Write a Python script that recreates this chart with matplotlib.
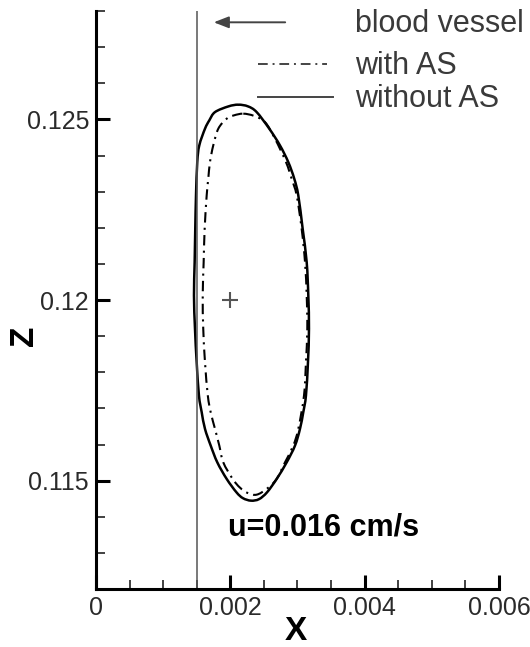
import matplotlib
matplotlib.use("Agg")
import matplotlib.pyplot as plt
from matplotlib.path import Path
from matplotlib.patches import PathPatch
from matplotlib.ticker import MultipleLocator, FixedFormatter, FixedLocator
import numpy as np

plt.rcParams['font.family'] = ['Liberation Sans', 'DejaVu Sans']

# Contour of the region without AS (x, z in 1e-3 units), clockwise from the top
x_without = [2.119, 2.263, 2.392, 2.580, 2.739, 2.863, 2.952, 3.012, 3.077, 3.137,
             3.161, 3.171, 3.156, 3.126, 3.086, 3.037, 2.963, 2.839, 2.690, 2.546,
             2.427, 2.308, 2.188, 2.092, 1.946, 1.806, 1.708, 1.623, 1.574, 1.533,
             1.499, 1.474, 1.459, 1.469, 1.478, 1.489, 1.508, 1.538, 1.623, 1.687,
             1.772, 1.973]
z_without = [125.407, 125.360, 125.202, 124.742, 124.280, 123.817, 123.357, 122.895, 121.972, 121.047,
             120.125, 119.202, 118.277, 117.355, 116.892, 116.432, 115.970, 115.507, 115.047, 114.676,
             114.488, 114.446, 114.515, 114.676, 115.047, 115.507, 115.970, 116.432, 116.892, 117.355,
             118.277, 119.202, 120.125, 121.047, 121.972, 122.895, 123.817, 124.280, 124.742, 124.972,
             125.202, 125.360]

# Contour of the region with AS (x, z in 1e-3 units), clockwise from the top
x_with = [2.193, 2.352, 2.516, 2.665, 2.829, 2.913, 2.988, 3.062, 3.112, 3.137,
          3.146, 3.126, 3.097, 3.012, 2.937, 2.814, 2.690, 2.541, 2.392, 2.263,
          2.144, 2.035, 1.895, 1.836, 1.772, 1.708, 1.665, 1.623, 1.597, 1.589,
          1.603, 1.618, 1.648, 1.672, 1.697, 1.746, 1.821, 1.946, 2.054]
z_with = [125.158, 125.097, 124.925, 124.465, 123.817, 123.357, 122.895, 121.972, 121.047, 120.125,
          119.202, 118.277, 117.355, 116.432, 115.970, 115.507, 115.047, 114.770, 114.612, 114.654,
          114.806, 115.047, 115.507, 115.970, 116.432, 116.892, 117.355, 118.277, 119.202, 120.125,
          121.047, 121.972, 122.895, 123.357, 123.817, 124.280, 124.742, 125.019, 125.111]

vessel_x = 0.0015
center = (0.002, 0.12)
x_ticks = [0, 0.002, 0.004, 0.006]
x_tick_labels = ['0', '0.002', '0.004', '0.006']
z_ticks = [0.115, 0.12, 0.125]
z_tick_labels = ['0.115', '0.12', '0.125']
speed_label = 'u=0.016 cm/s'


def smooth_closed_path(xs, zs, ax):
    """Closed Bezier path through the contour points (Catmull-Rom tangents),
    built in display space so the curvature looks even on screen."""
    pts = np.column_stack([np.array(xs) * 1e-3, np.array(zs) * 1e-3])
    disp = ax.transData.transform(pts)
    n = len(disp)
    verts, codes = [disp[0]], [Path.MOVETO]
    for i in range(n):
        p0, p1 = disp[i - 1], disp[i]
        p2, p3 = disp[(i + 1) % n], disp[(i + 2) % n]
        c1 = p1 + (p2 - p0) / 6.0
        c2 = p2 - (p3 - p1) / 6.0
        verts += [c1, c2, p2]
        codes += [Path.CURVE4] * 3
    data = ax.transData.inverted().transform(np.array(verts))
    return Path(data, codes)


fig = plt.figure(figsize=(5.30, 6.47), dpi=100)
ax = fig.add_axes([0.1811, 0.0896, 0.7604, 0.8934])
ax.set_xlim(0, 0.006)
ax.set_ylim(0.112, 0.128)

ax.add_patch(PathPatch(smooth_closed_path(x_without, z_without, ax),
                       facecolor='none', edgecolor='black', lw=1.8))
ax.add_patch(PathPatch(smooth_closed_path(x_with, z_with, ax),
                       facecolor='none', edgecolor='black', lw=1.5,
                       linestyle=(0, (5, 2.5, 1, 2.5))))

ax.axvline(vessel_x, color='#555555', lw=1.1)
ax.plot(*center, marker='+', color='#555555', ms=12, mew=1.5)

# legend-style annotations
ax.annotate('', xy=(0.001712, 0.127687), xytext=(0.002858, 0.127687),
            arrowprops=dict(arrowstyle='-|>,head_length=0.9,head_width=0.35',
                            color='#444444', lw=1.4), annotation_clip=False)
ax.text(0.003856, 0.127410, 'blood vessel', fontsize=22, color='#3a3a3a',
        va='baseline', ha='left', clip_on=False)
ax.plot([0.002412, 0.003439], [0.126524, 0.126524], color='#444444', lw=1.4,
        dashes=(5, 2.5, 1, 2.5), clip_on=False)
ax.text(0.003856, 0.126247, 'with AS', fontsize=22, color='#3a3a3a',
        va='baseline', ha='left', clip_on=False)
ax.plot([0.002412, 0.003528], [0.125609, 0.125609], color='#444444', lw=1.4,
        clip_on=False)
ax.text(0.003856, 0.125332, 'without AS', fontsize=22, color='#3a3a3a',
        va='baseline', ha='left', clip_on=False)

ax.text(0.001965, 0.113698, speed_label, fontsize=22, fontweight='bold',
        va='center', ha='left', color='black')

# axes styling
for side in ('top', 'right'):
    ax.spines[side].set_visible(False)
for side in ('left', 'bottom'):
    ax.spines[side].set_linewidth(2.2)

ax.xaxis.set_major_locator(FixedLocator(x_ticks))
ax.xaxis.set_major_formatter(FixedFormatter(x_tick_labels))
ax.xaxis.set_minor_locator(MultipleLocator(0.0005))
ax.yaxis.set_major_locator(FixedLocator(z_ticks))
ax.yaxis.set_major_formatter(FixedFormatter(z_tick_labels))
ax.yaxis.set_minor_locator(MultipleLocator(0.001))

ax.tick_params(which='major', direction='in', length=10, width=2.2,
               labelsize=18, labelcolor='#2a2a2a', pad=5)
ax.tick_params(which='minor', direction='in', length=6.5, width=1.3, color='#333333')

fig.text(296 / 530, 1 - 632 / 647, 'X', fontsize=24, fontweight='bold',
         ha='center', va='center')
fig.text(25 / 530, 1 - 336 / 647, 'Z', fontsize=24, fontweight='bold',
         ha='center', va='center', rotation=90)

fig.savefig('out.png', dpi=100)
